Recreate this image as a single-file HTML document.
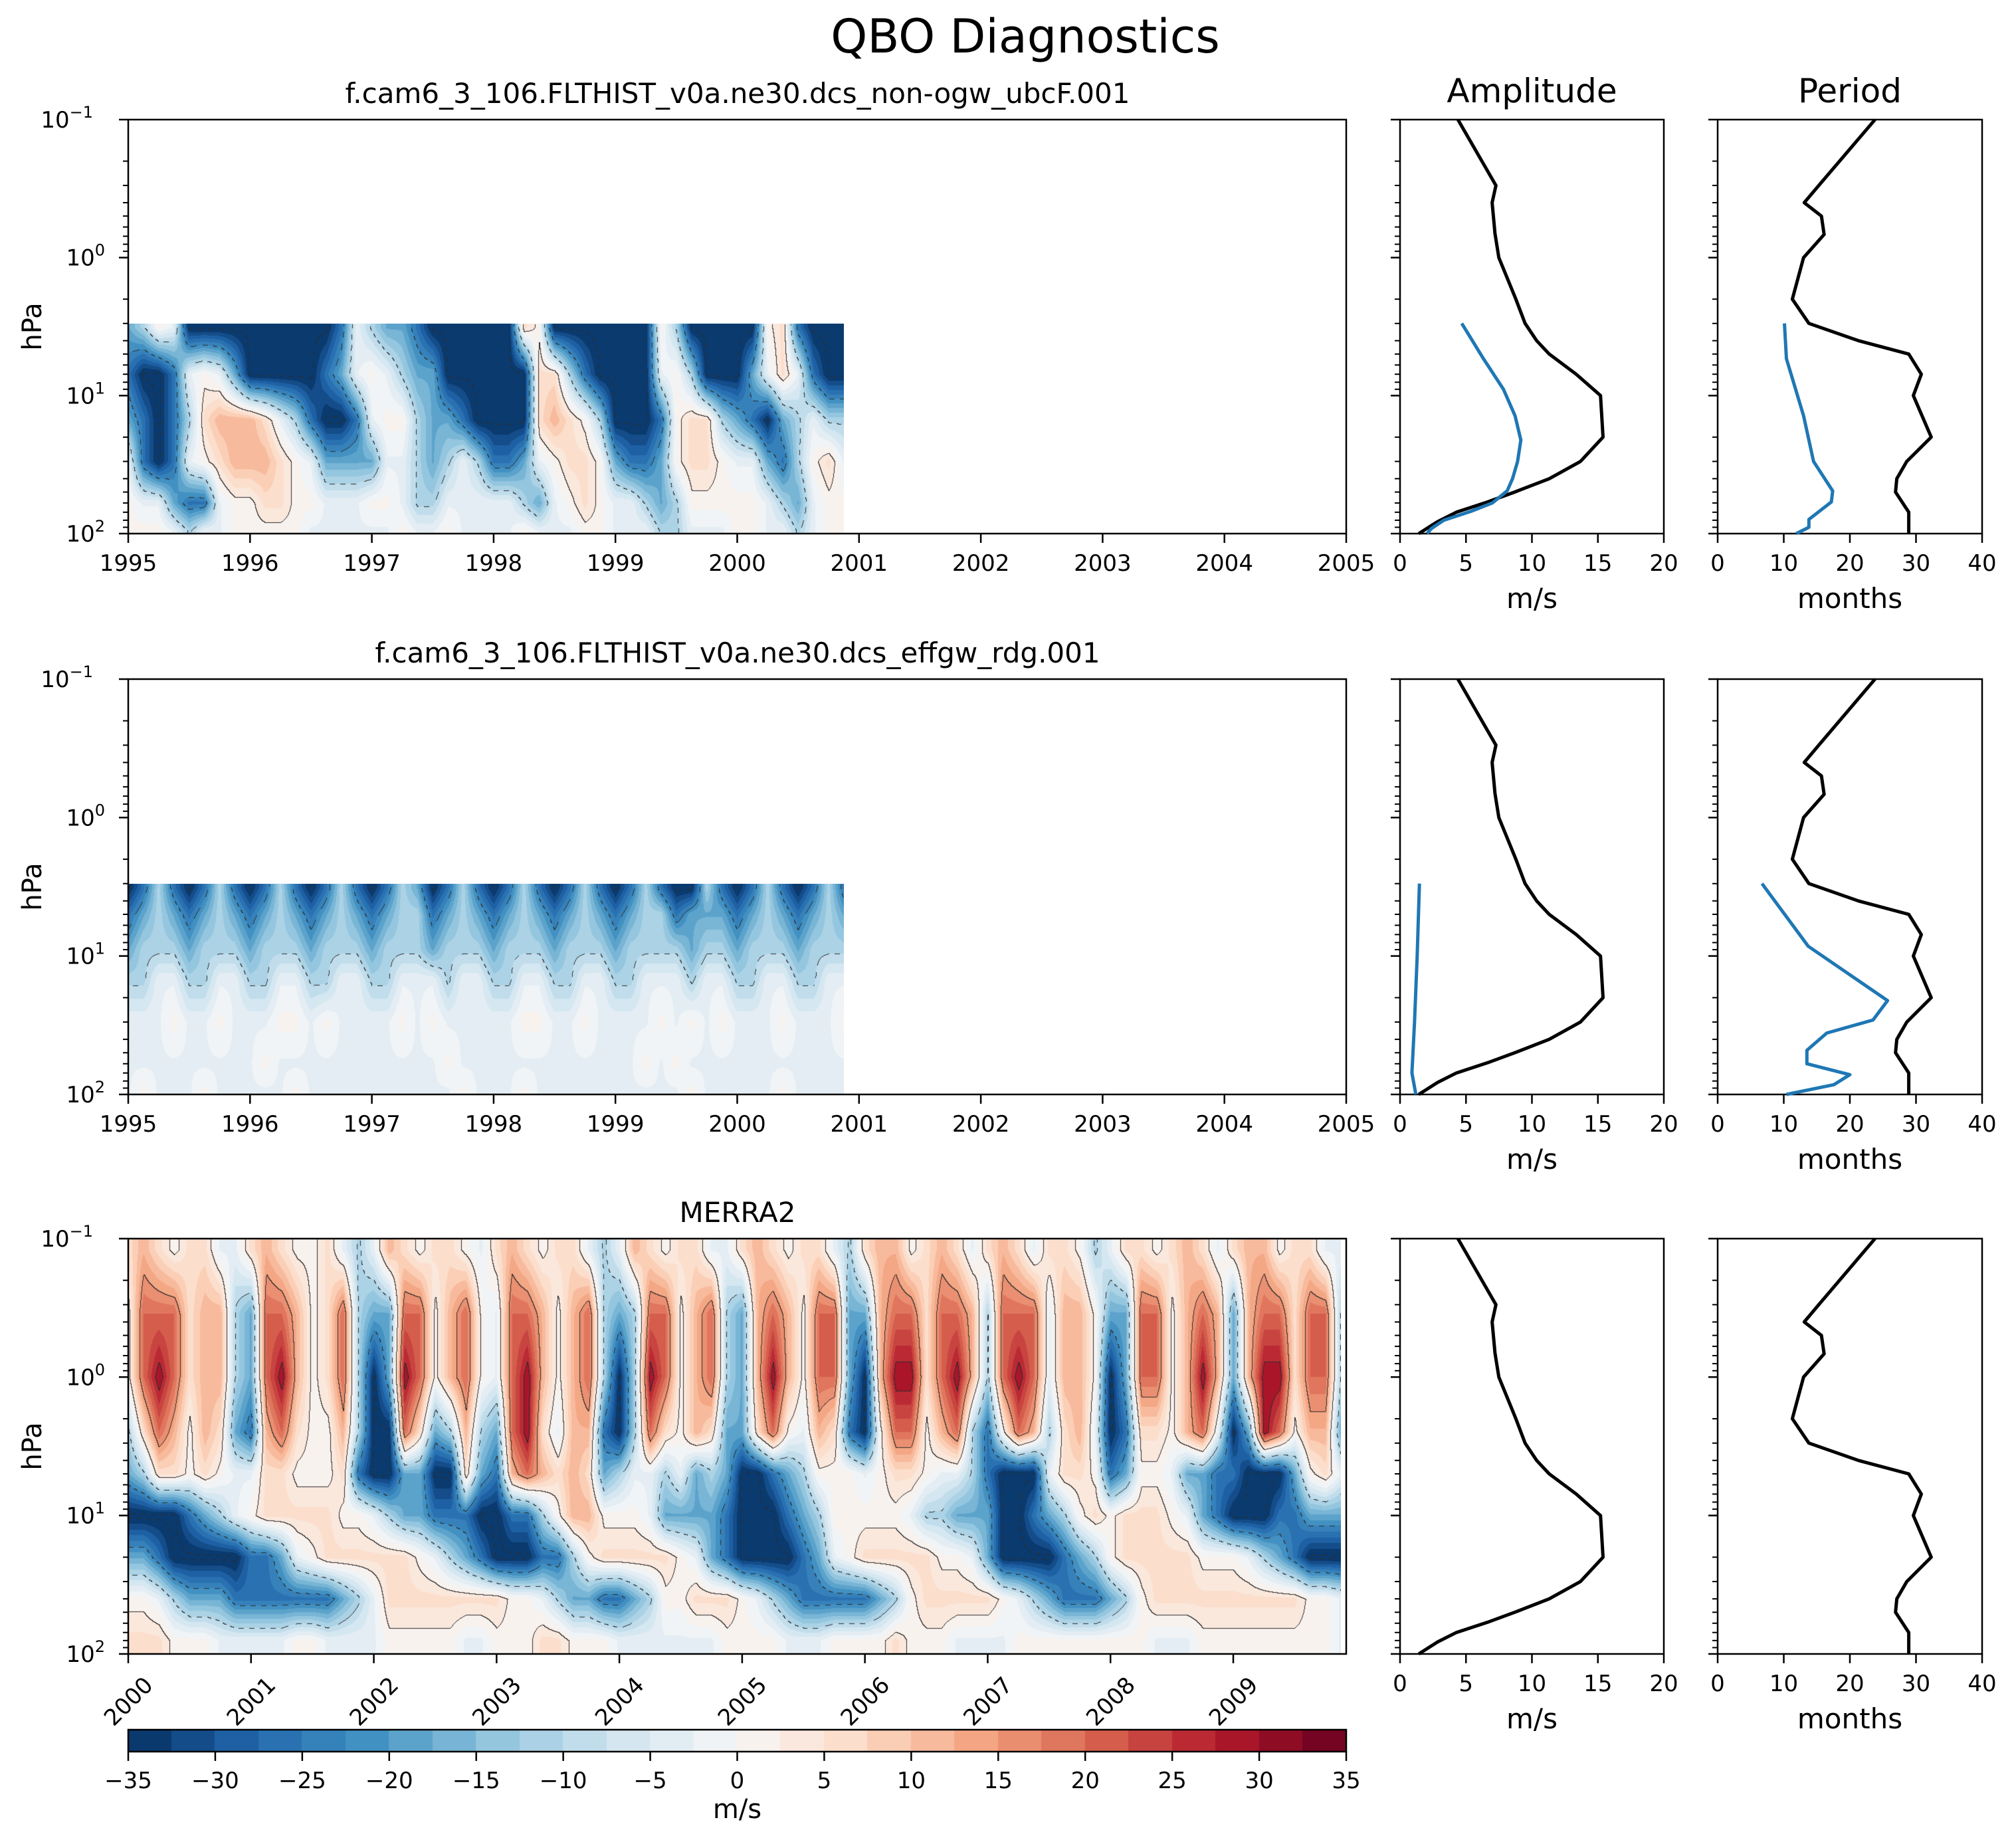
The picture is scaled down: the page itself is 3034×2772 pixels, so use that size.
<!DOCTYPE html>
<html><head><meta charset="utf-8"><title>QBO Diagnostics</title>
<style>
html,body{margin:0;padding:0;background:#fff;}
#wrap{position:relative;width:3034px;height:2772px;overflow:hidden;font-family:"DejaVu Sans","Liberation Sans",sans-serif;}
canvas{position:absolute;}
svg{position:absolute;left:0;top:0;}
</style></head>
<body>
<div id="wrap">
<canvas id="c1"></canvas>
<canvas id="c2"></canvas>
<canvas id="c3"></canvas>
<canvas id="cb"></canvas>
<svg id="s" width="3034" height="2772"></svg>
</div>
<script>
// ---------- data ----------
const DIGIT_VALUES = [-36,-26,-18,-11,-3,1,6,12,20,30];
// MERRA2 (2000.0 .. 2009.875, 8 per year), levels in hPa
const merraLevels = [0.12, 0.35, 1, 2.5, 5, 10, 20, 40, 80];
const merraRows = [
"67656644 67655643 47656654 67656643 47656644 67656643 67756764 67646653 46656764 67756644",
"58886773 28875683 22885785 48875783 23885783 27875882 27886887 38884775 22885787 27886883",
"58986773 28975683 02985785 48975783 03985783 27975882 07996897 38984775 02885797 27996883",
"36875762 17865573 00862373 28964771 03865762 26854761 05885783 15873674 01665784 02985772",
"23665654 46655561 00220062 17876762 34434232 00123555 45665443 10004665 12554221 10002564",
"00001234 56666655 43221110 01135775 55422221 00012355 55543322 20012356 56665421 00011222",
"22100000 11245666 66654321 00011356 66665421 00001245 66666554 20000123 56666655 54321000",
"55432221 11111123 46666666 65543221 12355666 54321111 12356666 65432111 23566666 66666554",
"66655544 44455444 45555544 55566555 44444445 55544455 55655544 44555555 55544455 55555554"
];
// non-ogw run (1995.0 .. 2000.875)
const p1Levels = [3.2, 7, 15, 30, 60, 95];
const p1Rows = [
"23540000 00000014 32210000 00650000 00053000 00561000",
"10014542 00000124 54322000 00066310 00045300 02464100",
"21013677 76431001 45532210 00067653 00015663 21023433",
"41014567 77654222 24432343 11245665 21125665 44213564",
"54421145 56655444 55433444 44324565 44323555 55432455",
"55543445 55554444 44544544 44544455 44433444 55443455"
];
// effgw_rdg run
const p2Levels = [3.2, 5, 9, 15, 30, 60, 95];
const p2Rows = [
"01310131 01310131 01320131 01310131 01310031 01310131",
"12321232 12321232 12331232 12321232 12331222 12321232",
"23332333 23332333 23332333 23332333 23333233 23332333",
"33443344 33443344 33444344 33443344 33444344 33443344",
"44454454 44554544 44545444 44554454 44454545 44454445",
"44444444 45444444 44444544 44444444 44545444 44444444",
"45444544 44454444 44444454 44544444 44444544 44454444"
];
// profiles
const ampP = [0.1,0.3,0.4,0.67,1,2,3,4,5,7,10,20,30,40,50,59,70,82,100];
const ampV = [4.39,7.27,6.98,7.2,7.49,8.78,9.48,10.36,11.31,13.36,15.2,15.39,13.68,11.31,8.69,6.64,4.27,2.84,1.42];
const perP = [0.1,0.3,0.4,0.5,0.68,1,2,3,4,5,7,10,20,30,40,50,70,100];
const perV = [23.8,15.3,13.1,15.7,16.1,13.0,11.3,13.8,21.3,28.9,30.8,29.6,32.3,28.6,27.1,26.9,28.9,28.9];
const amp1P = [3,5.4,9,14,21,30,40,49,60,69,80,92,100];
const amp1V = [4.68,6.32,7.84,8.72,9.16,8.91,8.53,8.12,7.0,5.37,3.32,2.37,2.05];
const per1P = [3,5.4,14,30,49,59,79,90,100];
const per1V = [10.1,10.4,13.0,14.5,17.4,17.2,13.8,13.8,11.9];
const amp2P = [3,10,30,70,100];
const amp2V = [1.47,1.3,1.1,0.9,1.2];
const per2P = [3,8.5,21,29,36,48,60,72,85,100];
const per2V = [6.7,13.7,25.7,23.5,16.5,13.5,13.5,20,17.6,10.4];
const cbTicks = [-35,-30,-25,-20,-15,-10,-5,0,5,10,15,20,25,30,35];
const ampTicks = [0,5,10,15,20];
const perTicks = [0,10,20,30,40];
const yTickExp = [-1,0,1,2];
const contourLevels = [-35,-22.5,-10,2.5,15,27.5];

// ---------- layout ----------
const X0=193, X1=2026;
const ROWS=[[180,803],[1022,1647],[1864,2489]];
const AMP=[2107,2504], PER=[2585,2983];
const NS="http://www.w3.org/2000/svg";
const svg=document.getElementById('s');
function el(tag,attrs,parent){const e=document.createElementNS(NS,tag);for(const k in attrs)e.setAttribute(k,attrs[k]);(parent||svg).appendChild(e);return e;}
function yOf(p,row){const [t,b]=ROWS[row];return t+(Math.log10(p)+1)/3*(b-t);}

// colormap RdBu_r
const STOPS=["#053061","#2166ac","#4393c3","#92c5de","#d1e5f0","#f7f7f7","#fddbc7","#f4a582","#d6604d","#b2182b","#67001f"].map(h=>[parseInt(h.slice(1,3),16),parseInt(h.slice(3,5),16),parseInt(h.slice(5,7),16)]);
function cmap(f){f=Math.max(0,Math.min(1,f))*10;const i=Math.min(9,Math.floor(f)),t=f-i;const a=STOPS[i],b=STOPS[i+1];return [a[0]+(b[0]-a[0])*t,a[1]+(b[1]-a[1])*t,a[2]+(b[2]-a[2])*t];}
const BANDS=[];for(let i=0;i<28;i++)BANDS.push(cmap((i+0.5)/28));

function parseRows(rows){return rows.map(r=>r.replace(/ /g,'').split('').map(c=>DIGIT_VALUES[+c]));}

function drawField(id,row,rows,levels,tStart,xMin,xMax,pTop,pBot){
  const grid=parseRows(rows);const n=grid[0].length;
  const tEnd=tStart+(n-1)/8;
  const xs=X0+(tStart-xMin)/(xMax-xMin)*(X1-X0);
  const xe=X0+(tEnd-xMin)/(xMax-xMin)*(X1-X0);
  const ys=yOf(pTop,row), ye=yOf(pBot,row);
  const W=Math.round(xe-xs),H=Math.round(ye-ys);
  const cv=document.getElementById(id);cv.width=W;cv.height=H;
  cv.style.left=Math.round(xs)+'px';cv.style.top=Math.round(ys)+'px';
  const ctx=cv.getContext('2d');const img=ctx.createImageData(W,H);
  const L=levels.map(Math.log10);
  const cls=new Int8Array(W*H);
  for(let py=0;py<H;py++){
    const lp=Math.log10(pTop)+(py+0.5)/H*(Math.log10(pBot)-Math.log10(pTop));
    let r0,r1,fr;
    if(lp<=L[0]){r0=r1=0;fr=0;}else if(lp>=L[L.length-1]){r0=r1=L.length-1;fr=0;}
    else{for(let k=0;k<L.length-1;k++){if(lp>=L[k]&&lp<=L[k+1]){r0=k;r1=k+1;fr=(lp-L[k])/(L[k+1]-L[k]);break;}}}
    for(let px=0;px<W;px++){
      let c=(px+0.5)/W*(n-1);const c0=Math.min(n-2,Math.floor(c)),fc=c-c0;
      const a=grid[r0][c0]*(1-fc)+grid[r0][c0+1]*fc;
      const b=grid[r1][c0]*(1-fc)+grid[r1][c0+1]*fc;
      const v=a*(1-fr)+b*fr;
      let k=0;for(const lv of contourLevels){if(v>=lv)k++;}
      cls[py*W+px]=k;
      const bi=Math.max(0,Math.min(27,Math.floor((v+35)/2.5)));
      const col=BANDS[bi];const o=(py*W+px)*4;
      img.data[o]=col[0];img.data[o+1]=col[1];img.data[o+2]=col[2];img.data[o+3]=255;
    }
  }
  for(let py=1;py<H;py++)for(let px=1;px<W;px++){
    const i=py*W+px;const k=cls[i];const kl=cls[i-1],ku=cls[i-W];
    if(k!==kl||k!==ku){
      const lvIdx=Math.min(k,Math.min(kl,ku));const lv=contourLevels[lvIdx];
      if(lv<0 && (((px+py)>>3)&1))continue;
      const o=i*4;img.data[o]=45;img.data[o+1]=45;img.data[o+2]=45;
    }
  }
  ctx.putImageData(img,0,0);
}
drawField('c1',0,p1Rows,p1Levels,1995,1995,2005,3,100);
drawField('c2',1,p2Rows,p2Levels,1995,1995,2005,3,100);
drawField('c3',2,merraRows,merraLevels,2000,2000,2009.92,0.1,100);

// colorbar
(function(){const cv=document.getElementById('cb');cv.width=X1-X0;cv.height=33;cv.style.left=X0+'px';cv.style.top='2603px';
const ctx=cv.getContext('2d');const w=(X1-X0)/28;for(let i=0;i<28;i++){const c=BANDS[i];ctx.fillStyle=`rgb(${c[0]|0},${c[1]|0},${c[2]|0})`;ctx.fillRect(Math.floor(i*w),0,Math.ceil(w)+1,33);}})();

// ---------- text ----------
function txt(x,y,s,size,anchor,name,extra){const t=el('text',Object.assign({x:x,y:y,'font-size':size,'text-anchor':anchor||'middle',fill:'#000','font-family':'DejaVu Sans, Liberation Sans, sans-serif'},extra||{}));t.textContent=s;return t;}
txt(1543,79,'QBO Diagnostics',70,'middle','figure-title');
txt(1110,155,'f.cam6_3_106.FLTHIST_v0a.ne30.dcs_non-ogw_ubcF.001',42,'middle','panel-title-nonogw');
txt(1110,997,'f.cam6_3_106.FLTHIST_v0a.ne30.dcs_effgw_rdg.001',42,'middle','panel-title-effgw');
txt(1110,1839,'MERRA2',42,'middle','panel-title-merra2');
txt((AMP[0]+AMP[1])/2,154,'Amplitude',50,'middle','amplitude-title');
txt((PER[0]+PER[1])/2,154,'Period',50,'middle','period-title');

function line(x1,y1,x2,y2,w,name){const l=el('line',{x1:x1,y1:y1,x2:x2,y2:y2,stroke:'#000','stroke-width':w});return l;}

function logAxis(row,x,labels){
  const [t,b]=ROWS[row];
  for(let d=-1;d<=2;d++){
    for(let m=1;m<10;m++){
      const p=m*Math.pow(10,d);if(p>100)break;
      const y=yOf(p,row);
      if(m===1){line(x-14,y,x,y,2.5,'y-major-tick');}
      else line(x-8,y,x,y,2,'y-minor-tick');
    }
  }
  if(labels){
    yTickExp.forEach(e=>{const y=yOf(Math.pow(10,e),row);
      const g=txt(x-22,y+12,'10',34,'end','y-tick-label');
      const sup=el('tspan',{dy:-15,'font-size':24},g);sup.textContent=(e<0?'\u2212':'')+Math.abs(e);
      
      g.setAttribute('x',x-20-(e<0?33:15));g.setAttribute('text-anchor','end');
    });
    const hy=(t+b)/2;
    txt(62,hy,'hPa',40,'middle','y-axis-title',{transform:`rotate(-90 62 ${hy})`});
  }
}
function frame(x0,x1,row,name){const [t,b]=ROWS[row];const r=el('rect',{x:x0,y:t,width:x1-x0,height:b-t,fill:'none',stroke:'#000','stroke-width':2.5});}

for(let row=0;row<3;row++){
  const [t,b]=ROWS[row];
  frame(X0,X1,row,'contour-frame');
  logAxis(row,X0,true);
  if(row<2){
    for(let yr=1995;yr<=2005;yr++){const x=X0+(yr-1995)/10*(X1-X0);line(x,b,x,b+14,2.5,'x-tick');txt(x,b+56,String(yr),34,'middle','x-tick-label');}
  } else {
    for(let yr=2000;yr<=2009;yr++){const x=X0+(yr-2000)/9.92*(X1-X0);line(x,b,x,b+14,2.5,'x-tick');
      const cy=b+71;txt(x,cy+12,String(yr),34,'middle','x-tick-label',{transform:`rotate(-45 ${x} ${cy})`});}
  }
  [[AMP,20,ampTicks,'amplitude'],[PER,40,perTicks,'period']].forEach(([ax,mx,ticks,nm])=>{
    frame(ax[0],ax[1],row,nm+'-frame');logAxis(row,ax[0],false);
    ticks.forEach(v=>{const x=ax[0]+v/mx*(ax[1]-ax[0]);line(x,b,x,b+14,2.5,'x-tick');txt(x,b+56,String(v),34,'middle','x-tick-label');});
    txt((ax[0]+ax[1])/2,b+112,nm==='amplitude'?'m/s':'months',42,'middle',nm+'-x-axis-title');
  });
}

function profile(ax,mx,row,P,V,color,name){
  const pts=P.map((p,i)=>[ax[0]+V[i]/mx*(ax[1]-ax[0]),yOf(p,row)].map(n=>n.toFixed(1)).join(',')).join(' ');
  const pl=el('polyline',{points:pts,fill:'none',stroke:color,'stroke-width':5,'stroke-linejoin':'round'});
  
}
for(let row=0;row<3;row++){
  profile(AMP,20,row,ampP,ampV,'#000','amplitude-merra2-line');
  profile(PER,40,row,perP,perV,'#000','period-merra2-line');
}
profile(AMP,20,0,amp1P,amp1V,'#1f77b4','amplitude-nonogw-line');
profile(PER,40,0,per1P,per1V,'#1f77b4','period-nonogw-line');
profile(AMP,20,1,amp2P,amp2V,'#1f77b4','amplitude-effgw-line');
profile(PER,40,1,per2P,per2V,'#1f77b4','period-effgw-line');

(function(){const r=el('rect',{x:X0,y:2603,width:X1-X0,height:33,fill:'none',stroke:'#000','stroke-width':2.5});

cbTicks.forEach(v=>{const x=X0+(v+35)/70*(X1-X0);line(x,2636,x,2650,2.5,'colorbar-tick');txt(x,2691,(v<0?'\u2212':'')+Math.abs(v),34,'middle','colorbar-tick-label');});
txt((X0+X1)/2,2736,'m/s',40,'middle','colorbar-label');})();
</script>
</body></html>
